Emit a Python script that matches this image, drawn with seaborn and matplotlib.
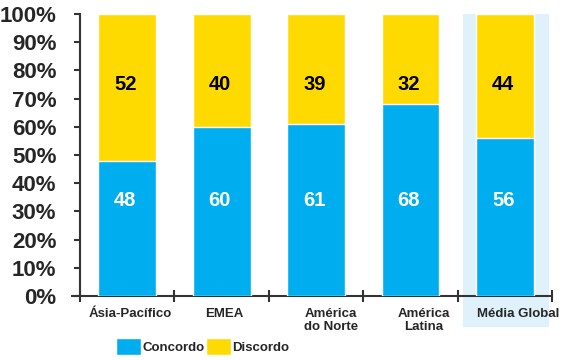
import numpy as np
import pandas as pd
import matplotlib
matplotlib.use('Agg')
import matplotlib.pyplot as plt
import seaborn as sns
from matplotlib.patches import Rectangle

regions = ["Ásia-Pacífico", "EMEA", "América\ndo Norte", "América\nLatina", "Média Global"]
concordo = [48, 60, 61, 68, 56]
discordo = [52, 40, 39, 32, 44]
y_ticks = [0, 10, 20, 30, 40, 50, 60, 70, 80, 90, 100]

BLUE = "#00AEEF"
YELLOW = "#FFDA00"
HILITE = "#DFF2FC"
AXCOL = "#333333"

sns.set_style("white")
plt.rcParams['font.family'] = ['Liberation Sans', 'DejaVu Sans']
plt.rcParams['font.weight'] = 'bold'

df = pd.DataFrame({"region": regions, "Concordo": concordo, "Discordo": discordo})
df["total"] = df["Concordo"] + df["Discordo"]

fig = plt.figure(figsize=(5.61, 3.6), dpi=100)
ax = fig.add_axes([0.1426, 0.178, 0.842, 0.783])

# highlight behind the global average
ax.add_patch(Rectangle((3.55, -11), 0.91, 111, facecolor=HILITE, edgecolor='none',
                       clip_on=False, zorder=0))

sns.barplot(data=df, x="region", y="total", color=YELLOW, width=0.61,
            saturation=1, ax=ax, zorder=2, label="Discordo")
sns.barplot(data=df, x="region", y="Concordo", color=BLUE, width=0.61,
            saturation=1, ax=ax, zorder=3, label="Concordo")
if ax.get_legend() is not None:
    ax.get_legend().remove()

for i, (c, d) in enumerate(zip(concordo, discordo)):
    ax.text(i - 0.02, 34, str(c), ha='center', va='center', color='white',
            fontsize=14.5, fontweight='bold', zorder=5)
    ax.text(i - 0.02, 75, str(d), ha='center', va='center', color='black',
            fontsize=14.5, fontweight='bold', zorder=5)

ax.set_xlim(-0.5, 4.5)
ax.set_ylim(0, 100)
ax.set_yticks(y_ticks)
ax.set_yticklabels([f"{v}%" for v in y_ticks], fontsize=16, fontweight='bold')
ax.tick_params(axis='y', direction='out', length=4, width=1.5, color=AXCOL, pad=13, left=True)

ax.set_xticks(np.arange(-0.5, 5, 1))
ax.set_xticklabels([])
ax.tick_params(axis='x', which='major', direction='inout', length=8, width=1.5, color=AXCOL, bottom=True)
ax.set_xticks([0.03, 0.03 + 1, 0.16 + 2, 0.14 + 3, 0.14 + 4], minor=True)
ax.set_xticklabels(regions, minor=True, fontsize=9.5, fontweight='bold', linespacing=1.1)
ax.tick_params(axis='x', which='minor', length=0, pad=9)

ax.set_xlabel("")
ax.set_ylabel("")
for s in ['top', 'right']:
    ax.spines[s].set_visible(False)
for s in ['left', 'bottom']:
    ax.spines[s].set_color(AXCOL)
    ax.spines[s].set_linewidth(1.5)
ax.spines['bottom'].set_bounds(-0.58, 4.5)

handles, labels = ax.get_legend_handles_labels()
order = [labels.index("Concordo"), labels.index("Discordo")]
fig.legend([handles[k] for k in order], [labels[k] for k in order],
           loc='lower left', bbox_to_anchor=(0.19, -0.012), ncol=2, frameon=False,
           prop={'size': 9.5, 'weight': 'bold'}, handlelength=1.9, handleheight=1.6,
           handletextpad=0.1, columnspacing=0.1, borderpad=0.2)

fig.savefig("out.png", dpi=100)
